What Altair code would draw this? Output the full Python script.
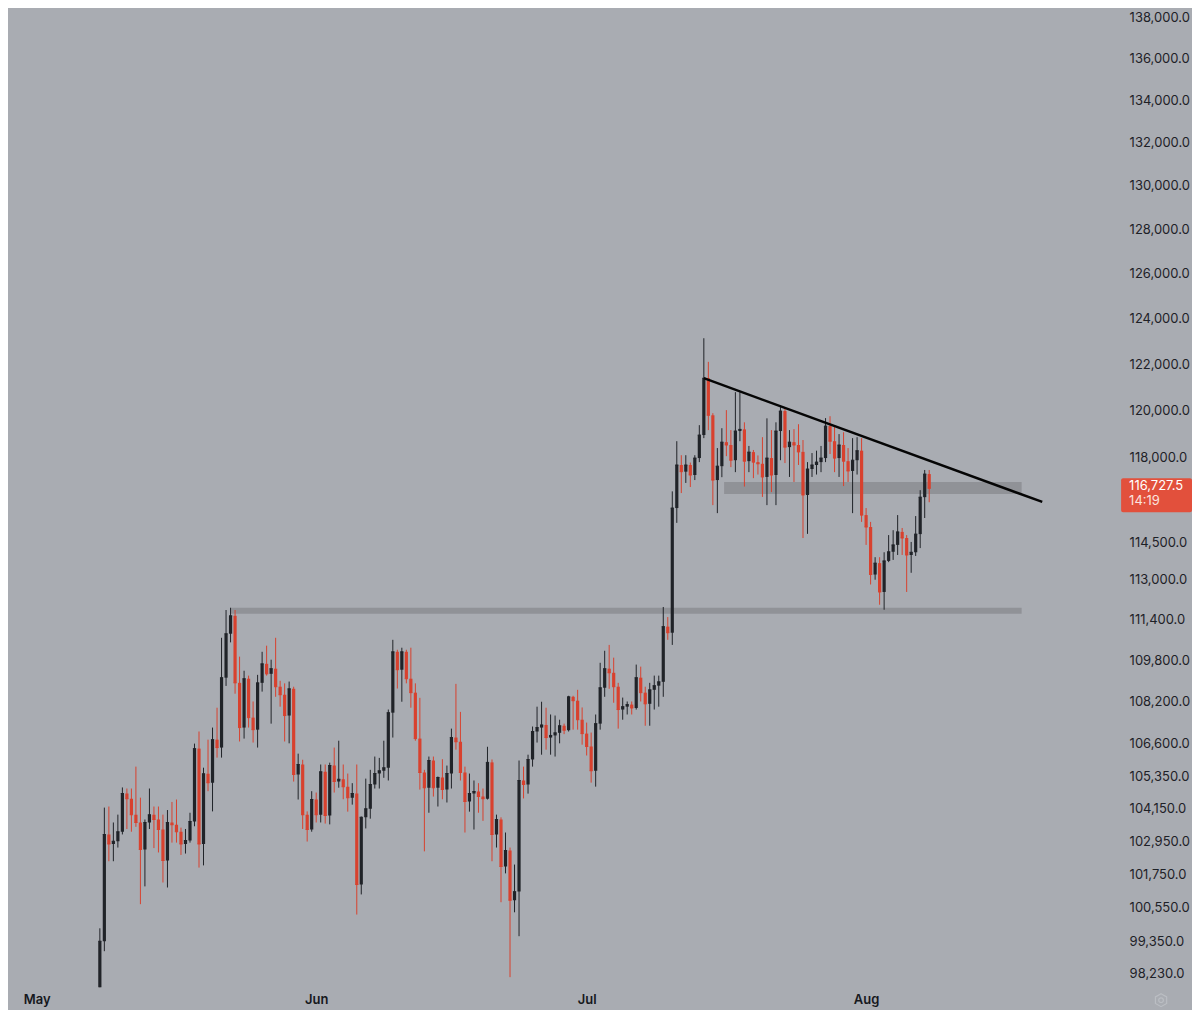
import altair as alt
import pandas as pd

# ---- 12h BTC candles, first bar 2025-05-08 00:00 UTC ----
first_bar = "2025-05-08T00:00:00Z"

opens = [
    97050, 99350, 103200, 102850, 102950, 103300, 104710, 104520, 103930, 103640,
    102650, 103640, 103930, 103750, 103380, 102250, 103640, 103560, 103300, 102850,
    102980, 103680, 106400, 102850, 105450, 105120, 106740, 106440, 109120, 110840,
    111550, 108920, 107200, 109080, 107580, 107120, 108920, 109660, 109270, 109470,
    108770, 108460, 107660, 108690, 105420, 105800, 103930, 103380, 104490, 103930,
    105530, 103900, 105760, 105160, 105250, 104970, 104560, 104710, 101380, 103830,
    104150, 105050, 105460, 105570, 105680, 107770, 110130, 109430, 110130, 109080,
    108540, 106780, 105500, 104930, 105950, 104930, 105310, 104860, 105460, 106820,
    106660, 105500, 104420, 104710, 104790, 104600, 104520, 105880, 103200, 103750,
    102030, 102610, 100810, 101130, 105200, 105050, 105990, 107050, 107200, 107300,
    106820, 106900, 107000, 107270, 107100, 108380, 108230, 107500, 106970, 106480,
    105570, 107350, 108730, 109470, 109310, 108770, 107890, 108000, 108080, 107950,
    109120, 108540, 108110, 108650, 108810, 108960, 111120, 110880, 115910, 117700,
    117420, 117700, 117280, 117990, 118960, 121390, 119800, 117070, 117650, 118660,
    118540, 117900, 119130, 119200, 117860, 118240, 117820, 117750, 117200, 117990,
    117280, 119130, 119980, 118450, 118660, 118540, 118250, 116450, 117530, 117700,
    117820, 117990, 119340, 118700, 117990, 118540, 117860, 117450, 117900, 118300,
    115620, 115130, 113200, 113660, 112500, 113750, 114120, 114400, 114930, 114680,
    113990, 114100, 114840, 116360, 117320,
]

highs = [
    99810, 104190, 104230, 103640, 103930, 104940, 104900, 104900, 105720, 104560,
    103750, 104900, 104230, 104230, 103930, 104100, 104400, 104490, 103450, 103400,
    104000, 106590, 107050, 105680, 106740, 107200, 107960, 110680, 111780, 111870,
    111780, 109940, 109390, 109200, 108200, 109230, 110130, 110370, 109820, 110680,
    109000, 108900, 108970, 108770, 106210, 105980, 104050, 104800, 104750, 105800,
    105800, 105870, 106440, 106700, 105800, 105460, 105100, 105800, 103860, 105270,
    105600, 106100, 106050, 106700, 107890, 110600, 110210, 110290, 110210, 110290,
    108900, 108340, 105600, 106100, 106100, 105350, 106000, 105760, 107160, 108880,
    107800, 105720, 105460, 105200, 105100, 104900, 106470, 105990, 103930, 103830,
    103270, 102720, 102100, 105950, 105720, 106170, 107240, 108000, 108190, 107960,
    107700, 107660, 107500, 107350, 108420, 108420, 108650, 107970, 107390, 107010,
    107700, 109700, 110170, 110400, 109900, 108920, 108350, 108200, 108200, 109630,
    109550, 108770, 108920, 109200, 109200, 111900, 111500, 116600, 118700, 118110,
    118110, 117800, 118110, 119380, 123130, 122100, 119890, 118410, 119250, 120020,
    119170, 120790, 120790, 119500, 118500, 118330, 118100, 118870, 119670, 119170,
    119500, 120150, 120100, 119170, 119210, 119420, 118750, 117820, 118200, 118300,
    118500, 119680, 119760, 119300, 119000, 119080, 118410, 118830, 118870, 118830,
    115910, 115340, 113900, 113900, 114100, 114800, 115000, 115620, 115090, 114800,
    114520, 115580, 116650, 117490, 117490,
]

lows = [
    96900, 99000, 102220, 102220, 102720, 103200, 103400, 103300, 103480, 100670,
    101310, 103400, 102700, 102540, 101450, 101270, 102900, 102900, 102450, 102500,
    102900, 103500, 101990, 102070, 104800, 104050, 106060, 106060, 108800, 110500,
    108500, 106670, 106780, 107200, 106630, 106440, 108580, 109200, 107350, 108380,
    108000, 106670, 106600, 105160, 104490, 103400, 102940, 103300, 103640, 103640,
    103600, 103570, 104750, 104930, 104500, 104040, 104300, 100300, 101020, 103420,
    103780, 104900, 104900, 105300, 105200, 106820, 108700, 108190, 108900, 107960,
    106700, 104860, 102580, 104000, 104600, 104230, 104500, 104380, 104900, 106360,
    105200, 103270, 104040, 103380, 104000, 103700, 104490, 102220, 102720, 100740,
    101780, 98090, 100380, 99530, 104530, 104710, 105720, 106630, 106170, 106360,
    106170, 106100, 106600, 106950, 107050, 107120, 107120, 106550, 106140, 105120,
    104970, 107120, 108380, 108690, 108150, 107160, 107500, 107700, 107700, 107890,
    108200, 107270, 107270, 107890, 108000, 108380, 110600, 110400, 115300, 116530,
    116950, 116780, 117070, 117820, 118830, 119170, 116030, 115700, 117190, 118070,
    117610, 117400, 118700, 116800, 117400, 117150, 117300, 116370, 116030, 116570,
    116030, 117900, 117780, 117200, 116990, 117700, 114680, 114850, 117200, 117300,
    117400, 117820, 118160, 117400, 117200, 116820, 116990, 115700, 117300, 115340,
    114400, 112800, 112990, 111990, 111790, 113700, 113790, 113990, 113990, 112500,
    113270, 113950, 114270, 115500, 116150,
]

closes = [
    99350, 103200, 102850, 102950, 103300, 104710, 104520, 103930, 103640, 102650,
    103640, 103930, 103750, 103380, 102250, 103640, 103560, 103300, 102850, 102980,
    103680, 106400, 102850, 105450, 105120, 106740, 106440, 109120, 110840, 111550,
    108920, 107200, 109080, 107580, 107120, 108920, 109660, 109270, 109470, 108770,
    108460, 107660, 108690, 105420, 105800, 103930, 103380, 104490, 103930, 105530,
    103900, 105760, 105160, 105250, 104970, 104560, 104710, 101380, 103830, 104150,
    105050, 105460, 105570, 105680, 107770, 110130, 109430, 110130, 109080, 108540,
    106780, 105500, 104930, 105950, 104930, 105310, 104860, 105460, 106820, 106660,
    105500, 104420, 104710, 104790, 104600, 104520, 105880, 103200, 103750, 102030,
    102610, 100810, 101130, 105200, 105050, 105990, 107050, 107200, 107300, 106820,
    106900, 107000, 107270, 107100, 108380, 108230, 107500, 106970, 106480, 105570,
    107350, 108730, 109470, 109310, 108770, 107890, 108000, 108080, 107950, 109120,
    108540, 108110, 108650, 108810, 108960, 111120, 110880, 115910, 117700, 117420,
    117700, 117280, 117990, 118960, 121390, 119800, 117070, 117650, 118660, 118540,
    117900, 119130, 119200, 117860, 118240, 117820, 117750, 117200, 117990, 117280,
    119130, 119980, 118450, 118660, 118540, 118250, 116450, 117530, 117700, 117820,
    117990, 119340, 118700, 117990, 118540, 117860, 117450, 117900, 118300, 115620,
    115130, 113200, 113660, 112500, 113750, 114120, 114400, 114930, 114680, 113990,
    114100, 114840, 116360, 117320, 116727.5,
]

# horizontal zones (start, end, low, high)
zone_start = ["2025-05-22T12:00:00Z", "2025-07-16T06:00:00Z"]
zone_end = ["2025-08-18T06:00:00Z", "2025-08-18T06:00:00Z"]
zone_low = [111630, 116490]
zone_high = [111870, 116990]

# descending trend line
trend_t = ["2025-07-14T00:00:00Z", "2025-08-20T13:00:00Z"]
trend_p = [121390, 116160]

# axis ticks
price_ticks = [138000, 136000, 134000, 132000, 130000, 128000, 126000, 124000,
               122000, 120000, 118000, 114500, 113000, 111400, 109800, 108200,
               106600, 105350, 104150, 102950, 101750, 100550, 99350, 98230]
month_ticks = [alt.DateTime(year=2025, month=m, date=1, utc=True) for m in (5, 6, 7, 8)]
countdown = "14:19"

# ---- tables ----
times = pd.date_range(first_bar, periods=len(closes), freq="12h").strftime("%Y-%m-%dT%H:%M:%SZ")
df = pd.DataFrame({"t": list(times), "open": opens, "high": highs, "low": lows, "close": closes})
df["dir"] = ["up" if c >= o else "down" for o, c in zip(opens, closes)]
zones = pd.DataFrame({"s": zone_start, "e": zone_end, "lo": zone_low, "hi": zone_high})
trend = pd.DataFrame({"t": trend_t, "p": trend_p})
last = pd.DataFrame({"close": [closes[-1]], "cd": [countdown]})
icon = pd.DataFrame({"k": [0]})

BG = "#a9acb2"
UP = "#202328"
DOWN = "#d8412e"
LABEL_RED = "#e2503c"

xs = alt.Scale(type="utc", domain=[
    alt.DateTime(year=2025, month=4, date=27, hours=19, minutes=29, utc=True),
    alt.DateTime(year=2025, month=8, date=27, hours=20, minutes=23, utc=True)])
ys = alt.Scale(type="log", domain=[97740, 138442], nice=False)

xaxis = alt.Axis(values=month_ticks, labelExpr="utcFormat(datum.value, '%b')", grid=False,
                 domain=False, ticks=False, tickSize=0, labelPadding=6, labelFlush=False,
                 labelFont="Inter", labelFontSize=13, labelFontWeight=600,
                 labelColor="#16181d", title=None)
yaxis = alt.Axis(orient="right", values=price_ticks, format=",.1f", grid=False, domain=False,
                 ticks=False, tickSize=0, labelPadding=21, labelFont="Inter", labelFontSize=13,
                 labelColor="#1e2127", labelOverlap=False, title=None)

color = alt.Color("dir:N", scale=alt.Scale(domain=["up", "down"], range=[UP, DOWN]), legend=None)

zone_layer = alt.Chart(zones).mark_rect(color="#8e9096", opacity=0.95).encode(
    x=alt.X("s:T", scale=xs, axis=xaxis), x2="e:T",
    y=alt.Y("lo:Q", scale=ys, axis=yaxis), y2="hi:Q")

base = alt.Chart(df).encode(x=alt.X("t:T", scale=xs, axis=xaxis), color=color)
wicks = base.mark_rule(strokeWidth=1, clip=True).encode(
    y=alt.Y("low:Q", scale=ys, axis=yaxis), y2="high:Q")
bodies = base.mark_rule(strokeWidth=3.2, clip=True).encode(
    y=alt.Y("open:Q", scale=ys, axis=yaxis), y2="close:Q")
doji = base.mark_tick(thickness=1, size=3.2, orient="horizontal", clip=True, opacity=1).encode(
    y=alt.Y("close:Q", scale=ys, axis=yaxis))

trend_layer = alt.Chart(trend).mark_line(color="#050505", strokeWidth=2.4).encode(
    x=alt.X("t:T", scale=xs, axis=xaxis), y=alt.Y("p:Q", scale=ys, axis=yaxis))

label_box = alt.Chart(last).mark_rect(color=LABEL_RED, yOffset=-10, y2Offset=24, cornerRadius=2).encode(
    x=alt.value(1115), x2=alt.value(1186),
    y=alt.Y("close:Q", scale=ys, axis=yaxis), y2="close:Q")
label_price = alt.Chart(last).mark_text(align="left", baseline="middle", font="Inter", fontSize=13,
                                        color="white", dy=-2).encode(
    x=alt.value(1123), y=alt.Y("close:Q", scale=ys, axis=yaxis),
    text=alt.Text("close:Q", format=",.1f"))
label_cd = alt.Chart(last).mark_text(align="left", baseline="middle", font="Inter", fontSize=13,
                                     color="#fbe3df", dy=13).encode(
    x=alt.value(1123), y=alt.Y("close:Q", scale=ys, axis=yaxis), text="cd:N")

# small settings (hexagon) icon in the corner of the time axis
hex_path = "M0,-1L0.866,-0.5L0.866,0.5L0,1L-0.866,0.5L-0.866,-0.5Z"
icon_hex = alt.Chart(icon).mark_point(shape=hex_path, size=170, filled=False, stroke="#c3c6cb",
                                      strokeWidth=1.2).encode(x=alt.value(1155), y=alt.value(993))
icon_dot = alt.Chart(icon).mark_point(shape="circle", size=22, filled=False, stroke="#c3c6cb",
                                      strokeWidth=1.2).encode(x=alt.value(1155), y=alt.value(993))

chart = alt.layer(zone_layer, wicks, bodies, doji, trend_layer, label_box, label_price, label_cd,
                  icon_hex, icon_dot).properties(
    width=1102, height=980, padding=0
).configure(background=BG).configure_view(stroke=None)

chart.save("out.html", embed_options={"renderer": "svg", "actions": False})
